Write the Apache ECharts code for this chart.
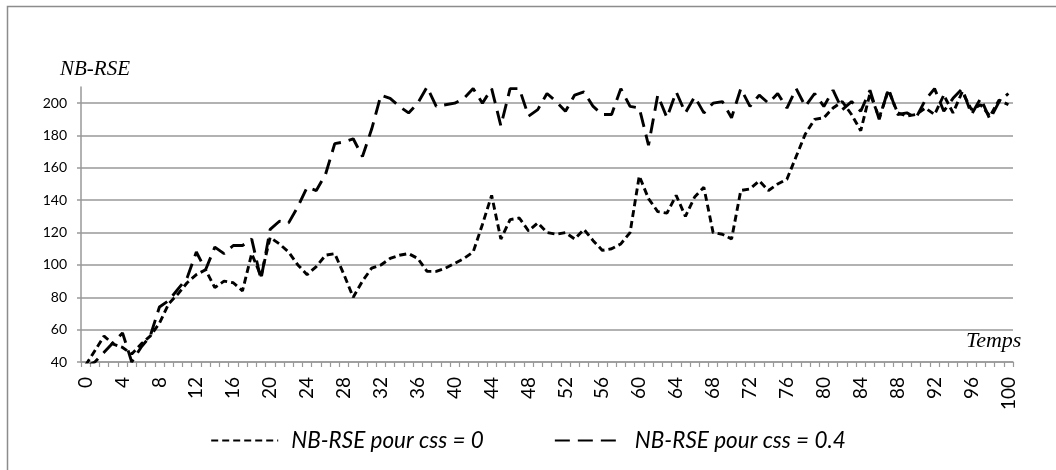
<!DOCTYPE html>
<html>
<head>
<meta charset="utf-8">
<script src="https://cdn.jsdelivr.net/npm/echarts@6/dist/echarts.min.js"></script>
<style>
  html, body { margin: 0; padding: 0; background: #fff; }
  #main { width: 1056px; height: 470px; }
</style>
</head>
<body>
<div id="main"></div>
<script>
// x categories (Temps)
const temps = [
  '0','1','2','3','4','5','6','7','8','9','10','11','12','13','14','15','16','17','18','19',
  '20','21','22','23','24','25','26','27','28','29','30','31','32','33','34','35','36','37','38','39',
  '40','41','42','43','44','45','46','47','48','49','50','51','52','53','54','55','56','57','58','59',
  '60','61','62','63','64','65','66','67','68','69','70','71','72','73','74','75','76','77','78','79',
  '80','81','82','83','84','85','86','87','88','89','90','91','92','93','94','95','96','97','98','99','100'
];

// NB-RSE pour css = 0
const css0 = [
  38, 47, 56, 51, 49, 45, 51, 56, 64, 76,
  82, 89, 94, 97, 86, 90, 89, 84, 107, 93,
  117, 113, 108, 100, 94, 99, 106, 107, 94, 80,
  90, 98, 100, 104, 106, 107, 104, 96, 96, 98,
  101, 104, 108, 125, 143, 116, 128, 129, 121, 126,
  120, 119, 120, 116, 122, 115, 109, 110, 113, 120,
  155, 141, 133, 132, 143, 130, 142, 148, 120, 119,
  116, 146, 147, 152, 146, 150, 153, 167, 181, 190,
  191, 197, 201, 193, 183, 206, 191, 208, 194, 192,
  193, 197, 193, 205, 194, 207, 196, 199, 192, 202,
  199
];

// NB-RSE pour css = 0.4
const css04 = [
  37, 40, 46, 52, 58, 40, 49, 56, 74, 78,
  85, 92, 108, 97, 111, 107, 112, 112, 116, 91,
  122, 127, 126, 136, 148, 146, 156, 175, 176, 178,
  167, 184, 205, 203, 198, 194, 200, 210, 198, 199,
  200, 203, 209, 200, 209, 186, 209, 209, 192, 196,
  206, 201, 195, 205, 207, 198, 193, 193, 209, 198,
  197, 174, 205, 191, 207, 194, 204, 194, 200, 201,
  191, 209, 198, 205, 200, 206, 197, 209, 198, 206,
  198, 208, 196, 201, 195, 208, 190, 209, 193, 194,
  191, 202, 209, 195, 203, 209, 193, 203, 190, 201,
  206
];

const yTicks = [40, 60, 80, 100, 120, 140, 160, 180, 200];
const seriesNames = ['NB-RSE pour css = 0', 'NB-RSE pour css = 0.4'];

const chart = echarts.init(document.getElementById('main'), null, { renderer: 'canvas' });

const gridColor = '#999999';

const option = {
  animation: false,
  backgroundColor: '#ffffff',
  grid: { left: 81, right: 43, top: 87, bottom: 108 },
  legend: {
    left: 'center',
    top: 424,
    itemGap: 70,
    itemWidth: 67,
    itemHeight: 14,
    itemStyle: { opacity: 0 },
    textStyle: {
      fontFamily: 'Lato',
      fontStyle: 'italic',
      fontSize: 22.5,
      color: '#000',
      padding: [0, 0, 0, 8]
    },
    data: seriesNames
  },
  xAxis: {
    type: 'category',
    data: temps,
    boundaryGap: true,
    axisLine: { lineStyle: { color: gridColor, width: 1.5 } },
    axisTick: { show: true, interval: 0, length: 5, lineStyle: { color: gridColor, width: 1.2 } },
    axisLabel: {
      interval: 3,
      rotate: 90,
      margin: 15,
      fontFamily: 'Lato',
      fontSize: 19,
      color: '#000'
    },
    splitLine: { show: false }
  },
  yAxis: {
    type: 'value',
    min: 40,
    max: 210,
    interval: 20,
    axisLine: { show: true, lineStyle: { color: gridColor, width: 1.5 } },
    axisTick: { show: true, length: 4, customValues: yTicks, lineStyle: { color: gridColor, width: 1.5 } },
    axisLabel: {
      customValues: yTicks,
      margin: 14,
      fontFamily: 'Lato',
      fontSize: 14,
      color: '#000'
    },
    splitLine: { show: true, lineStyle: { color: gridColor, width: 1.5 } }
  },
  graphic: [
    {
      type: 'rect',
      silent: true,
      shape: { x: 7.5, y: 6.5, width: 1100, height: 500 },
      style: { fill: 'none', stroke: '#8c8c8c', lineWidth: 1.5 }
    },
    {
      type: 'text',
      left: 60,
      top: 59,
      style: { text: 'NB-RSE', font: 'italic 21px "Liberation Serif"', fill: '#000' }
    },
    {
      type: 'text',
      left: 966,
      top: 330,
      style: { text: 'Temps', font: 'italic 22px "Liberation Serif"', fill: '#000' }
    }
  ],
  series: [
    {
      name: seriesNames[0],
      type: 'line',
      data: css0,
      symbol: 'none',
      itemStyle: { color: '#000' },
      lineStyle: { color: '#000', width: 2.9, type: [7, 4] }
    },
    {
      name: seriesNames[1],
      type: 'line',
      data: css04,
      symbol: 'none',
      itemStyle: { color: '#000' },
      lineStyle: { color: '#000', width: 2.9, type: [15, 8] }
    }
  ]
};

chart.setOption(option);
</script>
</body>
</html>
